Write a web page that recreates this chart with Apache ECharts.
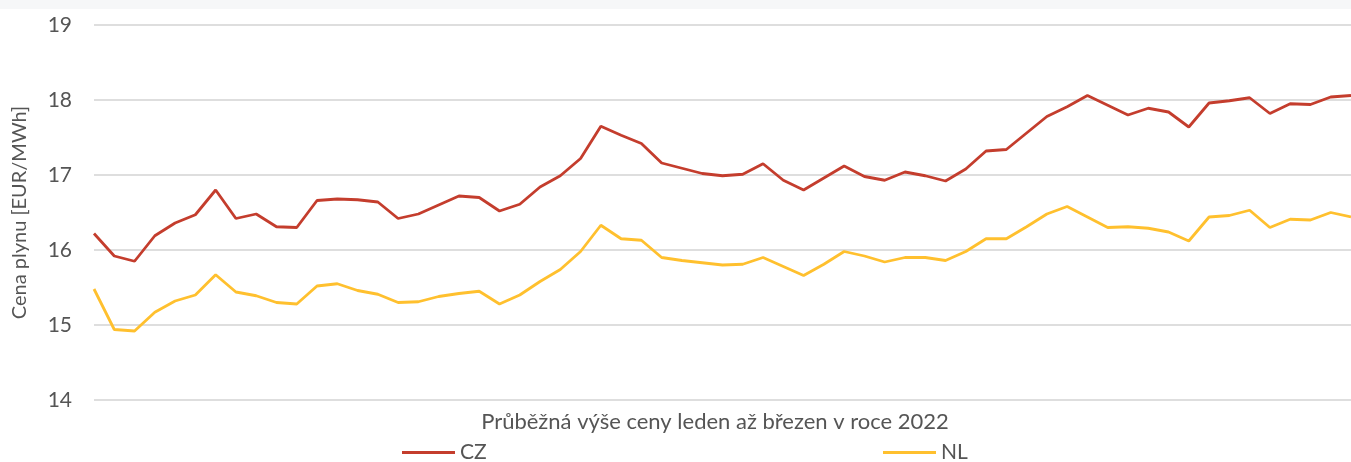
<!DOCTYPE html>
<html lang="cs">
<head>
<meta charset="utf-8">
<title>Cena plynu CZ / NL</title>
<script src="https://cdn.jsdelivr.net/npm/echarts@6/dist/echarts.min.js"></script>
<style>
    html, body { margin: 0; padding: 0; background: #fff; }
    #chart { width: 1351px; height: 462px; }
</style>
</head>
<body>
<div id="chart"></div>
<script>
// data (one value per trading day, Jan - Mar 2022)
var cz = [
    16.22, 15.92, 15.85, 16.19, 16.36, 16.47, 16.80, 16.42, 16.48, 16.31,
    16.30, 16.66, 16.68, 16.67, 16.64, 16.42, 16.48, 16.60, 16.72, 16.70,
    16.52, 16.61, 16.84, 16.99, 17.22, 17.65, 17.53, 17.42, 17.16, 17.09,
    17.02, 16.99, 17.01, 17.15, 16.93, 16.80, 16.96, 17.12, 16.98, 16.93,
    17.04, 16.99, 16.92, 17.08, 17.32, 17.34, 17.56, 17.78, 17.91, 18.06,
    17.93, 17.80, 17.89, 17.84, 17.64, 17.96, 17.99, 18.03, 17.82, 17.95,
    17.94, 18.04, 18.06
]
var nl = [
    15.48, 14.94, 14.92, 15.17, 15.32, 15.40, 15.67, 15.44, 15.39, 15.30,
    15.28, 15.52, 15.55, 15.46, 15.41, 15.30, 15.31, 15.38, 15.42, 15.45,
    15.28, 15.40, 15.58, 15.74, 15.98, 16.33, 16.15, 16.13, 15.90, 15.86,
    15.83, 15.80, 15.81, 15.90, 15.78, 15.66, 15.81, 15.98, 15.92, 15.84,
    15.90, 15.90, 15.86, 15.98, 16.15, 16.15, 16.31, 16.48, 16.58, 16.44,
    16.30, 16.31, 16.29, 16.24, 16.12, 16.44, 16.46, 16.53, 16.30, 16.41,
    16.40, 16.50, 16.44
]
// unlabeled day slots
var days = cz.map(function (v, i) { return String(i + 1) })
var yTicks = [14, 15, 16, 17, 18, 19]

var seriesNames = ['CZ', 'NL']
var colors = ['#C43D2D', '#FFC02E']
var font = 'Lato, "Open Sans", sans-serif'
var grey = '#555555'

var myChart = echarts.init(document.getElementById('chart'), null, { renderer: 'canvas' })

var legendItem = function (name, left) {
    return {
        data: [name],
        left: left,
        top: 442,
        padding: 0,
        icon: 'rect',
        itemWidth: 53,
        itemHeight: 3,
        itemGap: 0,
        textStyle: { fontFamily: font, fontSize: 21, color: grey }
    }
}

var option = {
    backgroundColor: '#fff',
    animation: false,
    textStyle: { fontFamily: font },
    // faint band along the top edge
    graphic: [
        { type: 'rect', left: 0, top: 0, shape: { width: 1351, height: 9 }, style: { fill: '#f6f7f8' }, silent: true }
    ],
    title: {
        text: 'Průběžná výše ceny leden až březen v roce 2022',
        left: 715,
        top: 411,
        padding: 0,
        textAlign: 'center',
        textStyle: { fontFamily: font, fontSize: 22, fontWeight: 'normal', color: grey }
    },
    legend: [legendItem(seriesNames[0], 402), legendItem(seriesNames[1], 883)],
    grid: {
        left: 94,
        right: -10,
        top: 25,
        bottom: 62,
        containLabel: false
    },
    xAxis: {
        type: 'category',
        data: days,
        boundaryGap: false,
        axisLine: { show: false },
        axisTick: { show: false },
        axisLabel: { show: false },
        splitLine: { show: false }
    },
    yAxis: {
        type: 'value',
        min: yTicks[0],
        max: yTicks[yTicks.length - 1],
        interval: 1,
        name: 'Cena plynu [EUR/MWh]',
        nameLocation: 'middle',
        nameGap: 64,
        nameRotate: 90,
        nameTextStyle: { fontFamily: font, fontSize: 20, color: grey },
        axisLine: { show: false },
        axisTick: { show: false },
        axisLabel: { margin: 22, fontFamily: font, fontSize: 21, color: grey },
        splitLine: { lineStyle: { color: '#dedede', width: 2 } }
    },
    series: [
        {
            name: seriesNames[0],
            type: 'line',
            data: cz,
            showSymbol: false,
            color: colors[0],
            lineStyle: { width: 2.8, color: colors[0] }
        },
        {
            name: seriesNames[1],
            type: 'line',
            data: nl,
            showSymbol: false,
            color: colors[1],
            lineStyle: { width: 2.8, color: colors[1] }
        }
    ]
}
myChart.setOption(option)
</script>
</body>
</html>
